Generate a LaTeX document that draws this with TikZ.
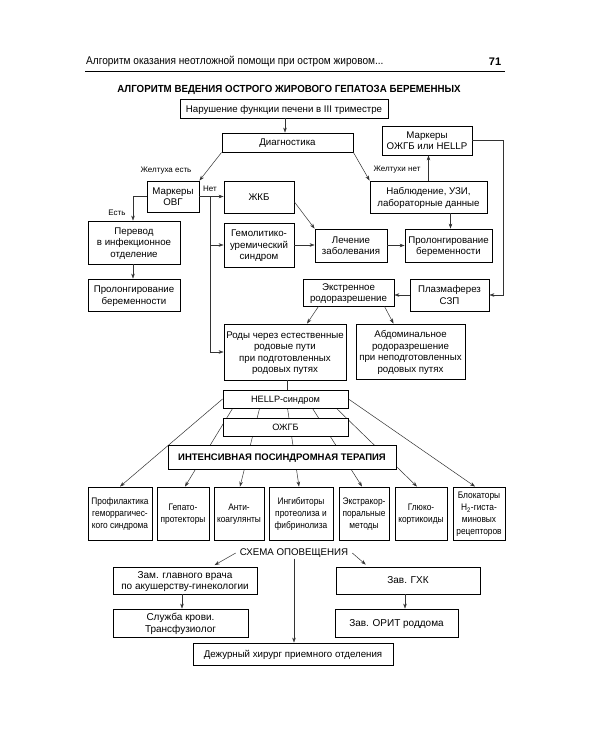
\documentclass[tikz,border=0pt]{standalone}
\usepackage{fontspec}
\setmainfont{Liberation Sans}
\newfontfamily\narrowfont{Liberation Sans}[FakeStretch=0.88]
\newfontfamily\headfont{Liberation Sans}[FakeStretch=0.90]
\newfontfamily\titlefont{Liberation Sans}[FakeStretch=0.945]
\usetikzlibrary{arrows.meta,backgrounds,calc}
\begin{document}
\begin{tikzpicture}[x=1pt,y=-1pt,
  box/.style={draw=black, line width=0.9pt, fill=white, align=center, inner sep=1pt, text depth=0pt, font=\fontsize{9.7}{11.5}\selectfont},
  bot/.style={font=\narrowfont\fontsize{9.5}{12}\selectfont, minimum height=53pt},
  arr/.style={draw=black!80, line width=0.5pt, -{Stealth[length=5pt,width=3.6pt]}},
  ln/.style={draw=black!80, line width=0.5pt},
  lbl/.style={font=\fontsize{8}{9}\selectfont, inner sep=0pt},
]
\useasboundingbox (0,0) rectangle (600,750);

% header
\node[anchor=west, font=\headfont\fontsize{11.2}{13}\selectfont, inner sep=0pt] (hdr) at (86,62) {Алгоритм оказания неотложной помощи при остром жировом...};
\node[font=\bfseries\fontsize{11}{13}\selectfont, inner sep=0pt] (pg) at (495,62) {71};
\draw[line width=0.8pt] (85,71) -- (505,71);
\node[font=\titlefont\bfseries\fontsize{10.3}{12}\selectfont, inner sep=0pt] (title) at (289,90) {АЛГОРИТМ ВЕДЕНИЯ ОСТРОГО ЖИРОВОГО ГЕПАТОЗА БЕРЕМЕННЫХ};

% boxes
\node[box,minimum width=208pt,minimum height=19pt] (b1) at (284,108.5) {Нарушение функции печени в III триместре};
\node[box,minimum width=131pt,minimum height=19pt] (diag) at (287.5,142.5) {Диагностика};
\node[box,minimum width=90pt,minimum height=29pt] (mojgb) at (427,140.5) {Маркеры\\ОЖГБ или HELLP};
\node[box,minimum width=117pt,minimum height=32pt] (nabl) at (428.5,197) {Наблюдение, УЗИ,\\лабораторные данные};
\node[box,minimum width=52pt,minimum height=31pt] (movg) at (173,196.5) {Маркеры\\ОВГ};
\node[box,minimum width=70pt,minimum height=32pt] (jkb) at (259,197) {ЖКБ};
\node[box,minimum width=70pt,minimum height=44pt] (gem) at (259,245) {Гемолитико-\\уремический\\синдром};
\node[box,minimum width=72pt,minimum height=33pt] (lech) at (351,245.5) {Лечение\\заболевания};
\node[box,minimum width=87pt,minimum height=33pt] (prolr) at (448.5,245.5) {Пролонгирование\\беременности};
\node[box,minimum width=92pt,minimum height=43pt] (perev) at (134,242.5) {Перевод\\в инфекционное\\отделение};
\node[box,minimum width=92pt,minimum height=32pt] (proll) at (134,295) {Пролонгирование\\беременности};
\node[box,minimum width=91pt,minimum height=27pt] (ekstr) at (348.5,292.5) {Экстренное\\родоразрешение};
\node[box,minimum width=79pt,minimum height=32pt] (plazm) at (449.5,295) {Плазмаферез\\СЗП};
\node[box,minimum width=122pt,minimum height=56pt] (rody) at (285,352) {Роды через естественные\\родовые пути\\при подготовленных\\родовых путях};
\node[box,minimum width=109pt,minimum height=55pt] (abd) at (410.5,351.5) {Абдоминальное\\родоразрешение\\при неподготовленных\\родовых путях};
\node[box,minimum width=125pt,minimum height=18pt,font=\fontsize{9.2}{11}\selectfont] (hellp) at (285.5,399) {HELLP-синдром};
\node[box,minimum width=125pt,minimum height=18pt,font=\fontsize{9.2}{11}\selectfont] (ojgb) at (285.5,427) {ОЖГБ};
\node[box,minimum width=228pt,minimum height=24pt,font=\bfseries\fontsize{9.5}{11}\selectfont] (intens) at (282,457) {ИНТЕНСИВНАЯ ПОСИНДРОМНАЯ ТЕРАПИЯ};

\node[box,bot,minimum width=64pt] (p1) at (120,513.5) {Профилактика\\геморрагичес-\\кого синдрома};
\node[box,bot,minimum width=52pt] (p2) at (183,513.5) {Гепато-\\протекторы};
\node[box,bot,minimum width=50pt] (p3) at (239,513.5) {Анти-\\коагулянты};
\node[box,bot,minimum width=64pt] (p4) at (301,513.5) {Ингибиторы\\протеолиза и\\фибринолиза};
\node[box,bot,minimum width=50pt] (p5) at (364,513.5) {Экстракор-\\поральные\\методы};
\node[box,bot,minimum width=52pt] (p6) at (421,513.5) {Глюко-\\кортикоиды};
\node[box,bot,minimum width=52pt] (p7) at (479,513.5) {Блокаторы\\H\textsubscript{2}-гиста-\\миновых\\рецепторов};

% notification scheme
\node[font=\fontsize{9.7}{11}\selectfont, inner sep=1pt] (sch) at (294,553) {СХЕМА ОПОВЕЩЕНИЯ};
\node[box,minimum width=144pt,minimum height=27pt,font=\fontsize{10}{11.5}\selectfont] (zam) at (185,580.5) {Зам. главного врача\\по акушерству-гинекологии};
\node[box,minimum width=135pt,minimum height=28pt,font=\fontsize{10}{11.5}\selectfont] (sluzh) at (180.5,623) {Служба крови.\\Трансфузиолог};
\node[box,minimum width=144pt,minimum height=27pt,font=\fontsize{10}{11.5}\selectfont] (gxk) at (408,580.5) {Зав. ГХК};
\node[box,minimum width=123pt,minimum height=28pt,font=\fontsize{10}{11.5}\selectfont] (orit) at (396.5,623) {Зав. ОРИТ роддома};
\node[box,minimum width=200pt,minimum height=22pt] (dezh) at (293,654) {Дежурный хирург приемного отделения};

% connectors
\draw[arr] ([xshift=1pt]b1.south) -- ([xshift=1pt]b1.south |- diag.north);
\draw[arr] (diag.south west) -- (movg.north east);
\node[lbl] (l1) at (166,171) {Желтуха есть};
\draw[arr] (diag.south east) -- (nabl.north west);
\node[lbl] (l2) at (397,170) {Желтухи нет};
\draw[arr] (nabl.north) -- (nabl.north |- mojgb.south);
\draw[arr] (mojgb.east) -- ++(31,0) |- (plazm.east);
\draw[arr] (plazm.west) -- (plazm.west -| ekstr.east);
\draw[arr] ([xshift=-30pt]ekstr.south) -- ([xshift=22pt]rody.north);
\draw[arr] ([xshift=36pt]ekstr.south) -- ([xshift=-17pt]abd.north);
\draw[arr] ([xshift=22pt]nabl.south) -- ([xshift=22pt]nabl.south |- prolr.north);
\draw[arr] (lech.east) -- (lech.east -| prolr.west);
\draw[arr] (gem.east) -- (gem.east -| lech.west);
\draw[arr] ([yshift=-5pt]jkb.east) -- (lech.north west);
\draw[arr] (movg.east) -- (movg.east -| jkb.west);
\node[lbl] (l3) at (210,189) {Нет};
\coordinate (vt) at ($(movg.east)!0.44!(jkb.west)$);
\draw[arr] (vt) |- (rody.west);
\draw[arr] (vt |- gem.west) -- (gem.west);
\draw[arr] (movg.west) -| ([xshift=-1pt]perev.north);
\node[lbl] (l4) at (117,213) {Есть};
\draw[arr] ([xshift=-1pt]perev.south) -- ([xshift=-1pt]proll.north);
\draw[ln] ([xshift=2pt]rody.south) -- ([xshift=2pt]rody.south |- hellp.north);

\draw[arr, shorten >=3pt] ([xshift=-3pt]sch.west) -- ([xshift=27pt]zam.north);
\draw[arr, shorten >=3pt] ([xshift=3pt]sch.east) -- ([xshift=-40pt]gxk.north);
\draw[arr] (sch.south) -- (sch.south |- dezh.north);
\draw[arr] ([xshift=-3pt]zam.south) -- ([xshift=-3pt]zam.south |- sluzh.north);
\draw[arr] ([xshift=-3pt]gxk.south) -- ([xshift=-3pt]gxk.south |- orit.north);

\begin{scope}[on background layer]
\fill[white] (0,0) rectangle (600,750);
\draw[arr] (hellp.west) -- (p1.north);
\draw[arr] (hellp.east) -- ([xshift=-4pt]p7.north);
\draw[arr] ([xshift=10pt]hellp.south west) -- ([xshift=2pt]p2.north);
\draw[arr] ([xshift=37pt]hellp.south west) -- ([xshift=1pt]p3.north);
\draw[arr] ([xshift=65pt]hellp.south west) -- ([xshift=-2pt]p4.north);
\draw[arr] ([xshift=90pt]hellp.south west) -- ([xshift=-2pt]p5.north);
\draw[arr] ([xshift=114pt]hellp.south west) -- ([xshift=-4pt]p6.north);
\end{scope}
\end{tikzpicture}
\end{document}
